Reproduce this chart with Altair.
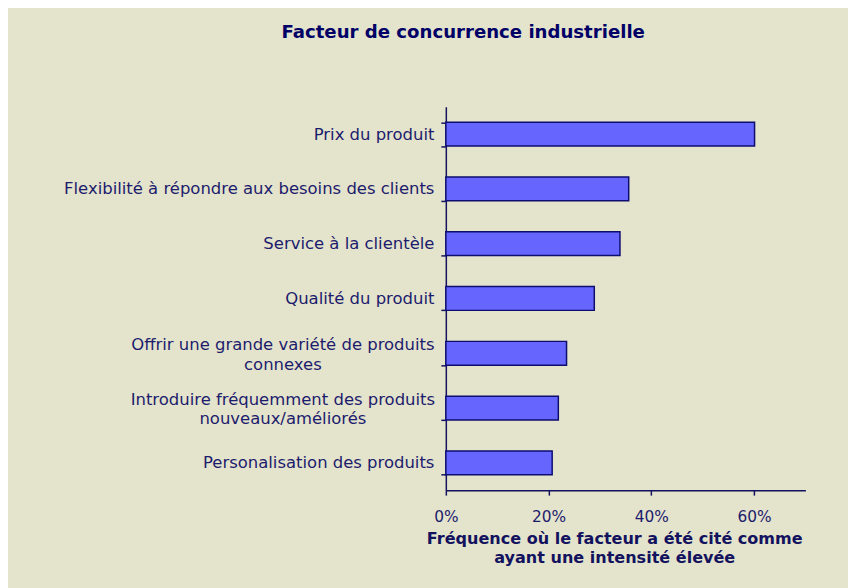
import altair as alt
import pandas as pd

categories = [
    "Prix du produit",
    "Flexibilité à répondre aux besoins des clients",
    "Service à la clientèle",
    "Qualité du produit",
    "Offrir une grande variété de produits\nconnexes",
    "Introduire fréquemment des produits\nnouveaux/améliorés",
    "Personalisation des produits",
]
values = [0.601, 0.356, 0.339, 0.289, 0.235, 0.219, 0.207]
x_ticks = [0, 0.2, 0.4, 0.6]

df = pd.DataFrame({"cat": categories, "val": values})

NAVY = "#1c1c6c"
BG = "#e4e3cc"

two_line = "indexof(datum.label, '\\n') >= 0"

bars = alt.Chart(df).mark_bar(
    color="#6666ff", stroke="#0d0d70", strokeWidth=1.5
).encode(
    x=alt.X(
        "val:Q",
        scale=alt.Scale(domain=[0, 0.7], nice=False),
        axis=alt.Axis(
            values=x_ticks,
            format=".0%",
            grid=False,
            title=["Fréquence où le facteur a été cité comme", "ayant une intensité élevée"],
            titleFont="DejaVu Sans",
            titleFontWeight="bold",
            titleFontSize=16.2,
            titleColor="#12125e",
            titleLineHeight=20,
            titleX=170,
            titleAlign="center",
            titlePadding=5,
            labelFont="DejaVu Sans",
            labelFontSize=15.5,
            labelColor=NAVY,
            labelPadding=15,
            labelFlush=False,
            domainColor="#12125e",
            domainWidth=1.5,
            tickColor="#12125e",
            tickWidth=1.5,
            tickSize=5,
        ),
    ),
    y=alt.Y(
        "cat:N",
        sort=categories,
        scale=alt.Scale(paddingInner=0.566, paddingOuter=0.283),
        axis=alt.Axis(
            title=None,
            labelExpr="split(datum.label, '\\n')",
            labelFont="DejaVu Sans",
            labelFontSize=16.6,
            labelColor=NAVY,
            labelLineHeight=20,
            labelLimit=500,
            labelAlign={"condition": {"test": two_line, "value": "center"}, "value": "right"},
            labelPadding={"condition": {"test": two_line, "value": 160}, "value": 7},
            labelOffset={"condition": {"test": two_line, "value": -9}, "value": 0},
            tickBand="extent",
            domainColor="#12125e",
            domainWidth=1.5,
            tickColor="#12125e",
            tickWidth=1.5,
            tickSize=5,
        ),
    ),
)

chart = bars.properties(
    width=363,
    height=387,
    background=BG,
    padding={"left": 442, "top": 97, "right": 43, "bottom": 96},
    autosize=alt.AutoSizeParams(type="none"),
    title=alt.TitleParams(
        "Facteur de concurrence industrielle",
        font="DejaVu Sans",
        fontSize=18.3,
        fontWeight="bold",
        color="#000066",
        anchor="middle",
        dx=-164,
        offset=57,
    ),
).configure_view(stroke=None, fill=BG)

chart.save("out.html", embed_options={"renderer": "svg", "actions": False})
